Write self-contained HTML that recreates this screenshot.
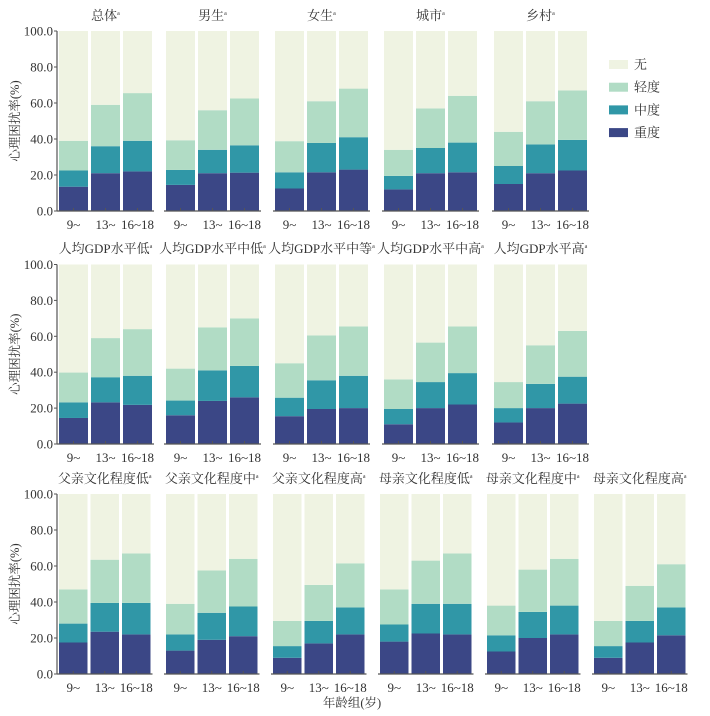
<!DOCTYPE html>
<html><head><meta charset="utf-8"><style>
html,body{margin:0;padding:0;background:#fff;}
svg{display:block;}
svg text{font-family:"Liberation Serif","Noto Serif CJK SC",serif;}
</style></head><body>
<svg id="chart" width="710" height="716" viewBox="0 0 710 716" font-family="'Liberation Serif','Noto Serif CJK SC',serif"></svg>
<script>
const categories = ["9~","13~","16~18"];
const yTicks = [0,20,40,60,80,100];
const yTickLabels = ["0.0","20.0","40.0","60.0","80.0","100.0"];
const levels = ["重度","中度","轻度","无"];
const legendOrder = ["无","轻度","中度","重度"];
const row1Titles = ["总体","男生","女生","城市","乡村"];
const row2Titles = ["人均GDP水平低","人均GDP水平中低","人均GDP水平中等","人均GDP水平中高","人均GDP水平高"];
const row3Titles = ["父亲文化程度低","父亲文化程度中","父亲文化程度高","母亲文化程度低","母亲文化程度中","母亲文化程度高"];
const severe1 = [[13.5,21,22],[14.5,21,21.3],[12.5,21.5,23],[12,21,21.5],[15,21,22.5]];
const moderate1 = [[9,15,17],[8.3,13,15.2],[9,16.3,18],[7.5,14,16.5],[10,16,17]];
const mild1 = [[16.5,23,26.5],[16.5,22,26],[17.3,23.2,27],[14.5,22,26],[19,24,27.5]];
const severe2 = [[14.5,23.2,21.8],[16,24,26],[15.5,19.5,20],[11,20,22],[12,20,22.5]];
const moderate2 = [[8.7,14,16.2],[8.2,17,17.5],[10.3,16,18],[8.5,14.5,17.5],[8,13.5,15]];
const mild2 = [[16.6,21.8,26],[17.8,24,26.5],[19.2,25,27.5],[16.5,22,26],[14.5,21.5,25.5]];
const severe3 = [[17.5,23.5,22],[13,19,21],[9,17,22],[18,22.5,22],[12.5,20,22],[9,17.5,21.5]];
const moderate3 = [[10.5,16,17.5],[9,15,16.5],[6.5,12.5,15],[9.5,16.5,17],[9,14.5,16],[6.5,12,15.5]];
const mild3 = [[19,24,27.5],[17,23.5,26.5],[14,20,24.5],[19.5,24,28],[16.5,23.5,26],[14,19.5,24]];
const colors = {"重度":"#3b4786","中度":"#3097a7","轻度":"#b1dcc5","无":"#eff3e2"};

const svg = document.getElementById('chart');
const NS = "http://www.w3.org/2000/svg";
const FF = '"Liberation Serif","Noto Serif CJK SC",serif';
function mk(tag, attrs, parent){const e=document.createElementNS(NS,tag);for(const k in attrs)e.setAttribute(k,attrs[k]);if(tag==='text')e.style.fontFamily=FF;(parent||svg).appendChild(e);return e;}

const rows = [
  {titles:row1Titles, sev:severe1, mod:moderate1, mil:mild1, top:31, bottom:211, xs:[57,164,273,382,492], bw:29, step:32, ty:20},
  {titles:row2Titles, sev:severe2, mod:moderate2, mil:mild2, top:264.5, bottom:444, xs:[57,164,273,382,492], bw:29, step:32, ty:253},
  {titles:row3Titles, sev:severe3, mod:moderate3, mil:mild3, top:494, bottom:674, xs:[57,164,271,378,485,592], bw:28.5, step:31.5, ty:483}
];

rows.forEach((r, ri) => {
  const yS = v => r.bottom - (v/100)*(r.bottom - r.top);
  const x0 = r.xs[0];
  const ax = mk('line',{x1:x0,y1:r.top,x2:x0,y2:r.bottom,stroke:'#555','stroke-width':1.2});
  
  
  yTicks.forEach((t,i)=>{
    const tl = mk('line',{x1:x0-3,y1:yS(t),x2:x0,y2:yS(t),stroke:'#555','stroke-width':1});
    
    
    const tx = mk('text',{x:x0-4,y:yS(t)+4.5,'text-anchor':'end','font-size':13,fill:'#333'});
    tx.textContent = yTickLabels[i];
    
    
  });
  const yt = mk('text',{x:0,y:0,'text-anchor':'middle','font-size':12.5,fill:'#333',transform:`translate(19,${(r.top+r.bottom)/2}) rotate(-90)`});
  yt.textContent = '心理困扰率(%)';
  
  

  r.xs.forEach((px, pi) => {
    const g = mk('g',{});
    
    
    const pw = 2 + r.step*2 + r.bw + 2;
    const title = mk('text',{x:px+pw/2,y:r.ty,'text-anchor':'middle','font-size':13,fill:'#333'},g);
    title.textContent = r.titles[pi];
    const sup = mk('tspan',{'font-size':6,dy:-5},title);
    sup.textContent = 'a';
    
    
    categories.forEach((c, ci) => {
      const bx = px + 2 + ci*r.step;
      const vals = [r.sev[pi][ci], r.mod[pi][ci], r.mil[pi][ci]];
      let cum = 0;
      const segs = [];
      vals.forEach(v=>{segs.push([cum,cum+v]);cum+=v;});
      segs.push([cum,100]);
      segs.forEach((s,li)=>{
        const rect = mk('rect',{x:bx,y:yS(s[1]),width:r.bw,height:yS(s[0])-yS(s[1]),fill:colors[levels[li]]},g);
        
        
      });
      const tk = mk('line',{x1:bx+r.bw/2,y1:r.bottom,x2:bx+r.bw/2,y2:r.bottom-3,stroke:'#555','stroke-width':1},g);
      
      
      const lbl = mk('text',{x:bx+r.bw/2,y:r.bottom+18,'text-anchor':'middle','font-size':13,fill:'#333'},g);
      lbl.textContent = c;
      
      
    });
    const xl = mk('line',{x1:px,y1:r.bottom,x2:px+pw,y2:r.bottom,stroke:'#555','stroke-width':1.2},g);
    
    
  });
});

const xt = mk('text',{x:352,y:707,'text-anchor':'middle','font-size':12.5,fill:'#333'});
xt.textContent = '年龄组(岁)';



const leg = mk('g',{});


legendOrder.forEach((l,i)=>{
  const y = 60 + i*22.7;
  const sw = mk('rect',{x:609,y:y,width:19,height:9,fill:colors[l]},leg);
  
  
  const t = mk('text',{x:634,y:y+9,'font-size':13,fill:'#333'},leg);
  t.textContent = l;
  
  
});
</script>
</body></html>
